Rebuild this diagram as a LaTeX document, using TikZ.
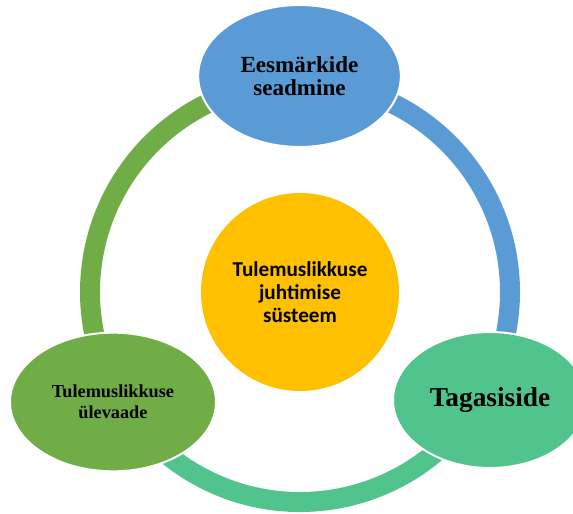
\documentclass[tikz,border=0pt]{standalone}
\usepackage{fontspec}
\setmainfont{Liberation Serif}
\newfontfamily\calibri{Carlito}
\usetikzlibrary{shapes.geometric}

\definecolor{goalblue}{HTML}{5B9BD5}
\definecolor{reviewgreen}{HTML}{70AD47}
\definecolor{feedbackteal}{HTML}{50C48C}
\definecolor{coreyellow}{HTML}{FFC000}

\begin{document}
\begin{tikzpicture}[
        x=0.75pt, y=0.75pt,
        ring/.style={line width=15pt},
        phase/.style={ellipse,draw=white,line width=1.5pt,inner sep=0pt,align=center},
        core/.style={circle,fill=coreyellow,inner sep=0pt,minimum size=148.5pt,align=center,
            font=\calibri\bfseries\fontsize{15.9}{17.5}\selectfont}
    ]

    \useasboundingbox (0,0) rectangle (573,513);
    \clip (0,0) rectangle (573,513);

    \coordinate (mid) at (300,221);

    % the cycle
    \draw[ring,reviewgreen] (mid) ++(200:210) arc[start angle=200,end angle=100,radius=210];
    \draw[ring,goalblue] (mid) ++(80:210) arc[start angle=80,end angle=-20,radius=210];
    \draw[ring,feedbackteal] (mid) ++(-30:210) arc[start angle=-30,end angle=-150,radius=210];

    \node[core] (system) at (mid) {Tulemuslikkuse\\juhtimise\\süsteem};

    \node[phase,fill=goalblue,minimum width=152pt,minimum height=106.5pt,
        font=\bfseries\fontsize{17.3}{17.5}\selectfont] (goals) at (299.5,437)
        {Eesmärkide\\seadmine};
    \node[phase,fill=reviewgreen,minimum width=154.5pt,minimum height=104pt,
        font=\bfseries\fontsize{13.7}{16}\selectfont] (review) at (113,111)
        {Tulemuslikkuse\\ülevaade};
    \node[phase,fill=feedbackteal,minimum width=145.5pt,minimum height=102pt,
        font=\bfseries\fontsize{20.5}{22}\selectfont] (feedback) at (490,113)
        {Tagasiside};

\end{tikzpicture}
\end{document}
